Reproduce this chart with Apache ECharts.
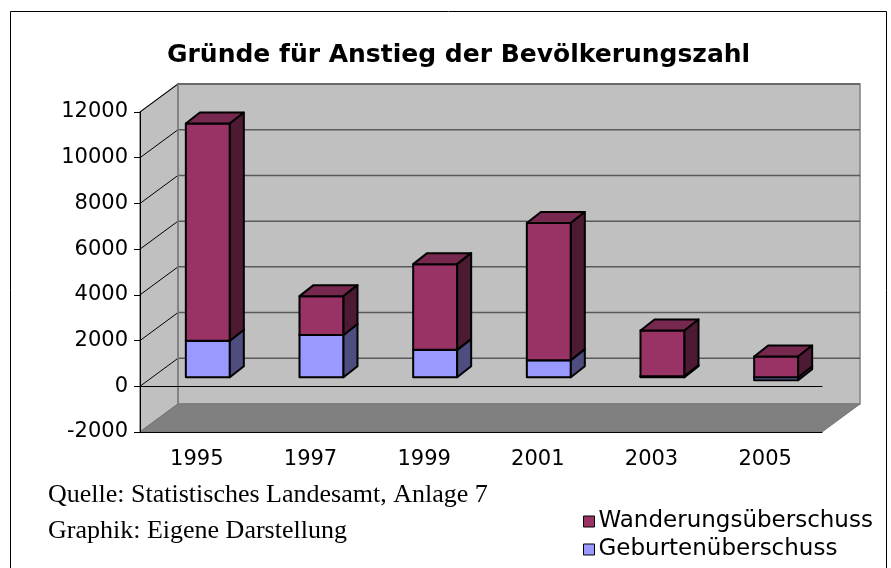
<!DOCTYPE html>
<html>
<head>
<meta charset="utf-8">
<script src="https://cdn.jsdelivr.net/npm/echarts@6/dist/echarts.min.js"></script>
<style>
html, body { margin: 0; padding: 0; background: #fff; }
#main { width: 891px; height: 568px; }
</style>
</head>
<body>
<div id="main"></div>
<script>
var years = ['1995', '1997', '1999', '2001', '2003', '2005'];
var geburten = [1600, 1850, 1200, 750, 50, -130];
var wanderung = [9500, 1700, 3750, 6000, 2000, 910];
var yTicks = [-2000, 0, 2000, 4000, 6000, 8000, 10000, 12000];

// 3D offsets (wall depth and bar depth)
var DX = 38, DY = -28;
var BAR_OX = 11, BAR_OY = -9;
var BAR_DX = 14, BAR_DY = -11;

var chart = echarts.init(document.getElementById('main'));

// stacked ranges built from the raw arrays
var gebData = [];
var wanData = [];
for (var i = 0; i < years.length; i++) {
	gebData.push([i, 0, geburten[i]]);
	var base = geburten[i] > 0 ? geburten[i] : 0;
	wanData.push([i, base, base + wanderung[i]]);
}

function boxRenderer(front, top, side){
	return function(params, api){
		var i = api.value(0);
		var a = api.coord([i, api.value(1)]);
		var b = api.coord([i, api.value(2)]);
		var w = api.size([1, 0])[0] * 0.387;
		var x0 = a[0] - w / 2 + BAR_OX;
		var yT = Math.min(a[1], b[1]) + BAR_OY;
		var yB = Math.max(a[1], b[1]) + BAR_OY;
		var line = { stroke: '#000', lineWidth: 2, lineJoin: 'round' };
		return {
			type: 'group',
			children: [
				{ type: 'rect', shape: { x: x0, y: yT, width: w, height: yB - yT },
				  style: echarts.util.extend({ fill: front }, line) },
				{ type: 'polygon', shape: { points: [[x0, yT], [x0 + BAR_DX, yT + BAR_DY], [x0 + w + BAR_DX, yT + BAR_DY], [x0 + w, yT]] },
				  style: echarts.util.extend({ fill: top }, line) },
				{ type: 'polygon', shape: { points: [[x0 + w, yT], [x0 + w + BAR_DX, yT + BAR_DY], [x0 + w + BAR_DX, yB + BAR_DY], [x0 + w, yB]] },
				  style: echarts.util.extend({ fill: side }, line) }
			]
		};
	};
}

function wallsRenderer(params, api){
	var cs = params.coordSys;
	var x = cs.x, y = cs.y, w = cs.width, h = cs.height;
	var children = [];
	// back wall
	children.push({ type: 'rect', shape: { x: x + DX, y: y + DY, width: w, height: h },
		style: { fill: '#c0c0c0', stroke: '#808080', lineWidth: 1.5 } });
	// left side wall
	children.push({ type: 'polygon', shape: { points: [[x, y], [x + DX, y + DY], [x + DX, y + h + DY], [x, y + h]] },
		style: { fill: '#c0c0c0', stroke: '#808080', lineWidth: 1.5 } });
	// floor
	children.push({ type: 'polygon', shape: { points: [[x, y + h], [x + w, y + h], [x + w + DX, y + h + DY], [x + DX, y + h + DY]] },
		style: { fill: '#808080', stroke: '#777', lineWidth: 1 } });
	// grid lines
	for (var k = 0; k < yTicks.length; k++) {
		var yy = api.coord([0, yTicks[k]])[1];
		if (yTicks[k] > yTicks[0]) {
			children.push({ type: 'line', shape: { x1: x + DX, y1: yy + DY, x2: x + w + DX, y2: yy + DY },
				style: { stroke: '#5a5a5a', lineWidth: 1.5 } });
			children.push({ type: 'line', shape: { x1: x, y1: yy, x2: x + DX, y2: yy + DY },
				style: { stroke: '#000', lineWidth: 1 } });
		}
	}
	// back wall left edge
	children.push({ type: 'line', shape: { x1: x + DX, y1: y + DY, x2: x + DX, y2: y + h + DY },
		style: { stroke: '#808080', lineWidth: 1.5 } });
	return { type: 'group', silent: true, children: children };
}

var option = {
	animation: false,
	backgroundColor: '#fff',
	textStyle: { fontFamily: 'DejaVu Sans' },
	title: {
		text: 'Gründe für Anstieg der Bevölkerungszahl',
		left: 162,
		top: 38,
		textStyle: { fontSize: 25, fontWeight: 'bold', color: '#000', fontFamily: 'DejaVu Sans' }
	},
	legend: {
		orient: 'vertical',
		left: 578,
		top: 505,
		itemWidth: 11,
		itemHeight: 11,
		itemGap: 5,
		icon: 'rect',
		data: ['Wanderungsüberschuss', 'Geburtenüberschuss'],
		itemStyle: { borderColor: '#000', borderWidth: 1 },
		textStyle: { fontSize: 23, color: '#000', fontFamily: 'DejaVu Sans', padding: [0, 0, 0, -1] }
	},
	grid: { left: 140, right: 69, top: 112, bottom: 136 },
	xAxis: [
		{
			type: 'category',
			data: years,
			z: 10,
			axisLine: { onZero: true, lineStyle: { color: '#000', width: 1 } },
			axisTick: { inside: true, length: 5, lineStyle: { color: '#000' } },
			axisLabel: { show: false },
			splitLine: { show: false }
		},
		{
			type: 'category',
			data: years,
			position: 'bottom',
			z: 10,
			axisLine: { onZero: false, lineStyle: { color: '#000', width: 1 } },
			axisTick: { length: 6, lineStyle: { color: '#000' } },
			axisLabel: { fontSize: 21, color: '#000', margin: 17, fontFamily: 'DejaVu Sans' },
			splitLine: { show: false }
		}
	],
	yAxis: {
		type: 'value',
		min: yTicks[0],
		max: yTicks[yTicks.length - 1],
		interval: 2000,
		z: 10,
		axisLine: { show: true, lineStyle: { color: '#000', width: 1 } },
		axisTick: { show: true, length: 6, lineStyle: { color: '#000' } },
		axisLabel: { fontSize: 21, color: '#000', margin: 12, fontFamily: 'DejaVu Sans',
			formatter: function(v){ return String(v); } },
		splitLine: { show: false }
	},
	graphic: [
		{ type: 'rect', shape: { x: 10.5, y: 11.5, width: 876, height: 600 },
		  style: { fill: null, stroke: '#000', lineWidth: 1 }, z: 100 },
		{ type: 'text', left: 48, top: 482,
		  style: { text: 'Quelle: Statistisches Landesamt, Anlage 7', fontFamily: 'Liberation Serif', fontSize: 26, fill: '#000' } },
		{ type: 'text', left: 48, top: 518,
		  style: { text: 'Graphik: Eigene Darstellung', fontFamily: 'Liberation Serif', fontSize: 26, fill: '#000' } }
	],
	series: [
		{
			name: 'walls',
			type: 'custom',
			z: 1,
			silent: true,
			renderItem: wallsRenderer,
			data: [[0, 0]]
		},
		{
			name: 'Geburtenüberschuss',
			type: 'custom',
			z: 5,
			itemStyle: { color: '#9999ff' },
			encode: { x: 0, y: [1, 2] },
			renderItem: boxRenderer('#9999ff', '#7575c8', '#4d4d80'),
			data: gebData
		},
		{
			name: 'Wanderungsüberschuss',
			type: 'custom',
			z: 5,
			itemStyle: { color: '#993366' },
			encode: { x: 0, y: [1, 2] },
			renderItem: boxRenderer('#993366', '#77284f', '#4d1a33'),
			data: wanData
		}
	]
};
chart.setOption(option);
</script>
</body>
</html>
